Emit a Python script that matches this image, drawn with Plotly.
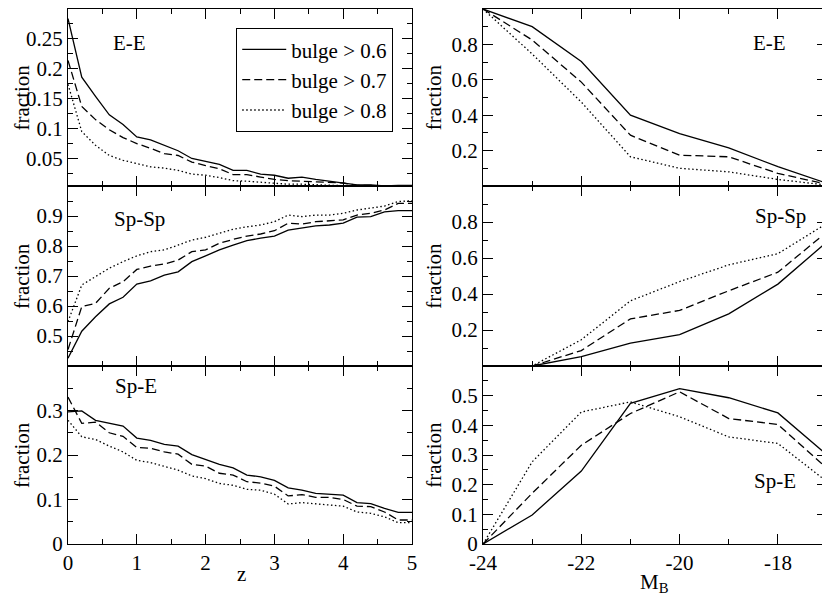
import plotly.graph_objects as go

# redshift grid (left column) and magnitude grid (right column)
z = [0.0, 0.2, 0.4, 0.6, 0.8, 1.0, 1.2, 1.4, 1.6, 1.8, 2.0, 2.2, 2.4,
     2.6, 2.8, 3.0, 3.2, 3.4, 3.6, 3.8, 4.0, 4.2, 4.4, 4.6, 4.8, 5.0]
mb = [-24, -23, -22, -21, -20, -19, -18, -17]

names = ["bulge > 0.6", "bulge > 0.7", "bulge > 0.8"]

# fraction vs z
ee_z_06 = [0.284, 0.186, 0.154, 0.123, 0.107, 0.086, 0.081, 0.072, 0.063, 0.050, 0.045, 0.040, 0.030,
           0.030, 0.024, 0.022, 0.017, 0.019, 0.015, 0.012, 0.010, 0.006, 0.006, 0.004, 0.005, 0.005]
ee_z_07 = [0.214, 0.137, 0.115, 0.098, 0.085, 0.075, 0.067, 0.058, 0.055, 0.044, 0.038, 0.033, 0.023,
           0.023, 0.019, 0.015, 0.013, 0.012, 0.010, 0.009, 0.009, 0.005, 0.005, 0.003, 0.004, 0.004]
ee_z_08 = [0.174, 0.095, 0.072, 0.055, 0.047, 0.041, 0.036, 0.034, 0.030, 0.024, 0.022, 0.018, 0.013,
           0.012, 0.010, 0.009, 0.007, 0.007, 0.006, 0.006, 0.005, 0.003, 0.003, 0.002, 0.003, 0.003]

spsp_z_06 = [0.426, 0.516, 0.564, 0.607, 0.629, 0.673, 0.684, 0.703, 0.714, 0.748, 0.767, 0.787, 0.803,
             0.818, 0.826, 0.833, 0.853, 0.859, 0.867, 0.870, 0.876, 0.896, 0.898, 0.914, 0.918, 0.918]
spsp_z_07 = [0.455, 0.598, 0.609, 0.659, 0.681, 0.722, 0.733, 0.740, 0.753, 0.781, 0.787, 0.809, 0.822,
             0.833, 0.840, 0.851, 0.876, 0.873, 0.881, 0.884, 0.887, 0.903, 0.909, 0.920, 0.942, 0.942]
spsp_z_08 = [0.548, 0.670, 0.698, 0.726, 0.748, 0.767, 0.781, 0.787, 0.803, 0.820, 0.829, 0.842, 0.856,
             0.864, 0.870, 0.881, 0.903, 0.898, 0.903, 0.903, 0.909, 0.920, 0.926, 0.933, 0.948, 0.951]

spe_z_06 = [0.297, 0.299, 0.278, 0.271, 0.265, 0.238, 0.233, 0.224, 0.220, 0.201, 0.190, 0.179, 0.171,
            0.155, 0.151, 0.143, 0.126, 0.121, 0.114, 0.112, 0.110, 0.093, 0.091, 0.080, 0.071, 0.071]
spe_z_07 = [0.330, 0.271, 0.274, 0.250, 0.242, 0.217, 0.215, 0.207, 0.202, 0.179, 0.175, 0.159, 0.155,
            0.140, 0.137, 0.130, 0.108, 0.111, 0.105, 0.105, 0.100, 0.085, 0.084, 0.072, 0.054, 0.054]
spe_z_08 = [0.278, 0.241, 0.235, 0.220, 0.207, 0.188, 0.183, 0.175, 0.166, 0.153, 0.147, 0.136, 0.132,
            0.123, 0.121, 0.112, 0.090, 0.093, 0.090, 0.087, 0.085, 0.072, 0.069, 0.061, 0.048, 0.048]

# fraction vs M_B
ee_m_06 = [1.0, 0.900, 0.703, 0.400, 0.296, 0.215, 0.109, 0.015]
ee_m_07 = [1.0, 0.825, 0.587, 0.287, 0.174, 0.165, 0.071, 0.010]
ee_m_08 = [1.0, 0.746, 0.474, 0.165, 0.100, 0.080, 0.037, 0.005]

spsp_m_06 = [0.0, 0.0, 0.052, 0.127, 0.174, 0.290, 0.455, 0.690]
spsp_m_07 = [0.0, 0.0, 0.086, 0.262, 0.309, 0.418, 0.521, 0.746]
spsp_m_08 = [0.0, 0.0, 0.146, 0.362, 0.469, 0.562, 0.624, 0.793]

spe_m_06 = [0.0, 0.098, 0.246, 0.474, 0.524, 0.493, 0.442, 0.300]
spe_m_07 = [0.0, 0.171, 0.333, 0.440, 0.513, 0.423, 0.403, 0.255]
spe_m_08 = [0.0, 0.277, 0.445, 0.479, 0.429, 0.361, 0.339, 0.210]

FONT = "Liberation Serif, Times New Roman, Times, serif"
dashes = ["solid", "8px,4px", "1.5px,2.5px"]

fig = go.Figure()

panels = [
    # (axis suffix, x, series, show legend)
    ("", z, [ee_z_06, ee_z_07, ee_z_08], True),
    ("2", z, [spsp_z_06, spsp_z_07, spsp_z_08], False),
    ("3", z, [spe_z_06, spe_z_07, spe_z_08], False),
    ("4", mb, [ee_m_06, ee_m_07, ee_m_08], False),
    ("5", mb, [spsp_m_06, spsp_m_07, spsp_m_08], False),
    ("6", mb, [spe_m_06, spe_m_07, spe_m_08], False),
]
for suf, xs, series, leg in panels:
    for i, ys in enumerate(series):
        fig.add_trace(go.Scatter(
            x=xs, y=ys, mode="lines", name=names[i], showlegend=leg,
            line=dict(color="black", width=1.3, dash=dashes[i]),
            xaxis="x" + suf, yaxis="y" + suf,
        ))

# the page puts the figure 8px in from the top-left corner, so the figure is
# 822x590 and the domains are measured from there
rows = [[0.6983, 0.9983], [0.3932, 0.6983], [0.0915, 0.3932]]
cols = [[0.0730, 0.4915], [0.5779, 0.9964]]


def frame(**kw):
    d = dict(showline=True, linecolor="black", linewidth=1.2, mirror="allticks",
             ticks="inside", ticklen=10, tickwidth=1.2, tickcolor="black",
             showgrid=False, zeroline=False, automargin=False,
             tickfont=dict(family=FONT, size=21, color="black"))
    d.update(kw)
    return d


def minor(vals):
    return dict(tickvals=vals, ticks="inside", ticklen=5, tickwidth=1.2, tickcolor="black")


z_ticks = [0, 1, 2, 3, 4, 5]
z_minor = [0.5, 1.5, 2.5, 3.5, 4.5]
m_ticks = [-24, -22, -20, -18]
m_labels = ["-24", "-22", "-20", "-18"]
m_minor = [-23, -21, -19, -17]

layout = {}
for r in range(3):
    suf_l = "" if r == 0 else str(r + 1)
    suf_r = str(r + 4)
    last = r == 2
    layout["xaxis" + suf_l] = frame(domain=cols[0], anchor="y" + suf_l, range=[0, 5],
                                    tickvals=z_ticks, showticklabels=last, minor=minor(z_minor))
    layout["xaxis" + suf_r] = frame(domain=cols[1], anchor="y" + suf_r, range=[-24, -17],
                                    tickvals=m_ticks, ticktext=m_labels, showticklabels=last,
                                    minor=minor(m_minor))

layout["yaxis"] = frame(domain=rows[0], anchor="x", range=[0.004, 0.3],
                        tickvals=[0.05, 0.1, 0.15, 0.2, 0.25],
                        ticktext=["0.05", "0.1", "0.15", "0.2", "0.25"],
                        minor=minor([0.025, 0.075, 0.125, 0.175, 0.225, 0.275]))
layout["yaxis2"] = frame(domain=rows[1], anchor="x2", range=[0.4, 1.0],
                         tickvals=[0.5, 0.6, 0.7, 0.8, 0.9],
                         minor=minor([0.45, 0.55, 0.65, 0.75, 0.85, 0.95]))
layout["yaxis3"] = frame(domain=rows[2], anchor="x3", range=[0, 0.4],
                         tickvals=[0, 0.1, 0.2, 0.3],
                         minor=minor([0.05, 0.15, 0.25, 0.35]))
layout["yaxis4"] = frame(domain=rows[0], anchor="x4", range=[0, 1],
                         tickvals=[0.2, 0.4, 0.6, 0.8, 1.0], ticktext=["0.2", "0.4", "0.6", "0.8", "1"],
                         minor=minor([0.1, 0.3, 0.5, 0.7, 0.9]))
layout["yaxis5"] = frame(domain=rows[1], anchor="x5", range=[0, 1],
                         tickvals=[0.2, 0.4, 0.6, 0.8],
                         minor=minor([0.1, 0.3, 0.5, 0.7, 0.9]))
layout["yaxis6"] = frame(domain=rows[2], anchor="x6", range=[0, 0.6],
                         tickvals=[0, 0.1, 0.2, 0.3, 0.4, 0.5],
                         minor=minor([0.05, 0.15, 0.25, 0.35, 0.45, 0.55]))

fig.update_layout(**layout)

txt = dict(family=FONT, size=21, color="black")

# panel labels
labels = [
    ("E-E", "x", "y", 0.90, 0.243),
    ("Sp-Sp", "x2", "y2", 1.04, 0.89),
    ("Sp-E", "x3", "y3", 0.99, 0.354),
    ("E-E", "x4", "y4", -18.17, 0.808),
    ("Sp-Sp", "x5", "y5", -17.95, 0.832),
    ("Sp-E", "x6", "y6", -18.05, 0.212),
]
for text, xr, yr, xv, yv in labels:
    fig.add_annotation(text=text, x=xv, y=yv, xref=xr, yref=yr, showarrow=False, font=txt,
                       xanchor="center", yanchor="middle")

# axis titles
for xp in (0.017, 0.518):
    for rr in rows:
        fig.add_annotation(text="fraction", x=xp, y=(rr[0] + rr[1]) / 2, xref="paper", yref="paper",
                           showarrow=False, textangle=-90, font=txt,
                           xanchor="center", yanchor="middle")
fig.add_annotation(text="z", x=0.2835, y=0.0407, xref="paper", yref="paper", showarrow=False,
                   font=txt, xanchor="center", yanchor="middle")
fig.add_annotation(text="M<sub>B</sub>", x=0.787, y=0.025, xref="paper", yref="paper",
                   showarrow=False, font=txt, xanchor="center", yanchor="middle")

fig.update_layout(
    width=822, height=590,
    margin=dict(l=0, r=0, t=0, b=0),
    paper_bgcolor="white", plot_bgcolor="white",
    font=txt,
    showlegend=True,
    legend=dict(x=0.2774, y=0.966, xanchor="left", yanchor="top",
                bordercolor="black", borderwidth=1.2, bgcolor="white",
                font=txt, tracegroupgap=0, itemwidth=44),
)

fig.write_html("out.html")
